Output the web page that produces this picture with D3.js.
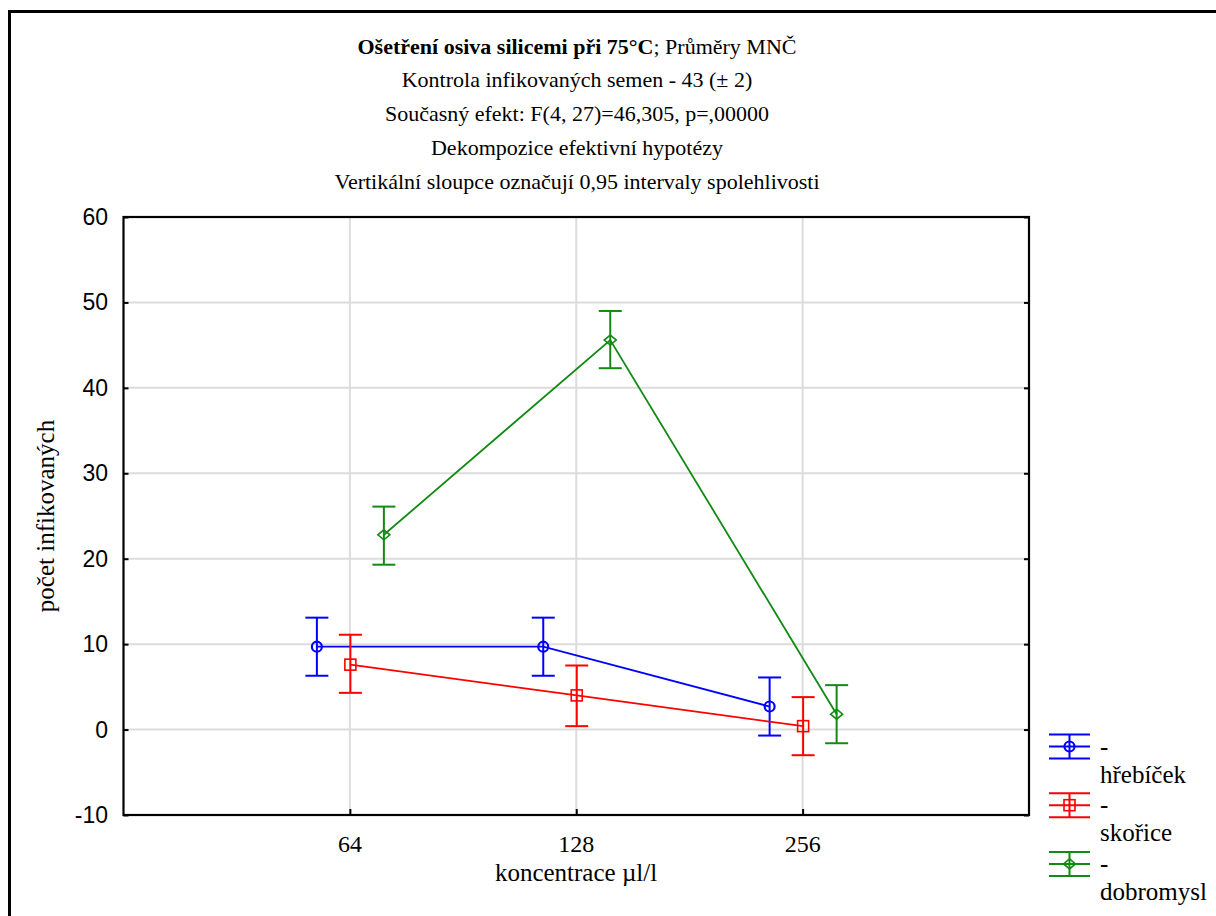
<!DOCTYPE html>
<html><head><meta charset="utf-8">
<script src="https://cdn.jsdelivr.net/npm/d3@7"></script>
<style>
html,body{margin:0;padding:0;background:#fff;}
svg{display:block;}
</style></head>
<body>
<svg id="chart" width="1216" height="916"></svg>
<script>
// ---- data ----
const categories = ["64", "128", "256"];
const seriesNames = ["hřebíček", "skořice", "dobromysl"];
const seriesColors = ["#0000ff", "#ff0000", "#138a13"];
const seriesMarkers = ["circle", "square", "diamond"];
const hrebicekMean = [9.7, 9.7, 2.7];
const hrebicekLow = [6.3, 6.3, -0.7];
const hrebicekHigh = [13.1, 13.1, 6.1];
const skoriceMean = [7.6, 4.0, 0.4];
const skoriceLow = [4.3, 0.4, -3.0];
const skoriceHigh = [11.1, 7.5, 3.8];
const dobromyslMean = [22.8, 45.6, 1.8];
const dobromyslLow = [19.3, 42.3, -1.6];
const dobromyslHigh = [26.1, 49.0, 5.2];
const yTicks = [-10, 0, 10, 20, 30, 40, 50, 60];
const titleLines = [
  "Kontrola infikovaných semen - 43 (± 2)",
  "Současný efekt: F(4, 27)=46,305, p=,00000",
  "Dekompozice efektivní hypotézy",
  "Vertikální sloupce označují 0,95 intervaly spolehlivosti"
];
const xLabel = "koncentrace µl/l";
const yLabel = "počet infikovaných";

const series = [
  {name: seriesNames[0], mean: hrebicekMean, low: hrebicekLow, high: hrebicekHigh},
  {name: seriesNames[1], mean: skoriceMean, low: skoriceLow, high: skoriceHigh},
  {name: seriesNames[2], mean: dobromyslMean, low: dobromyslLow, high: dobromyslHigh}
].map((s, i) => ({...s, color: seriesColors[i], marker: seriesMarkers[i]}));

// ---- layout ----
const svg = d3.select("#chart");
const L = 123.5, R = 1029, T = 217, B = 815;
const serif = "Liberation Serif";
const sans = "Liberation Sans";

const x = d3.scalePoint().domain(categories).range([L, R]).padding(1);
const off = d3.scalePoint().domain(seriesNames).range([-33, 34]);
const y = d3.scaleLinear().domain([-10, 60]).range([B, T]);

// outer frame
svg.append("path").attr("d", `M9.5,916 V11.5 H1216`).attr("fill", "none")
  .attr("stroke", "#000").attr("stroke-width", 3);

// title
const tg = svg.append("g").style("font-family", serif).style("font-size", "22px")
  .attr("text-anchor", "middle").attr("fill", "#000");
const t0 = tg.append("text").attr("x", 577).attr("y", 54);
t0.append("tspan").attr("font-weight", "bold").text("Ošetření osiva silicemi při 75°C");
t0.append("tspan").text("; Průměry MNČ");
titleLines.forEach((t, i) => tg.append("text").attr("x", 577).attr("y", 87 + i * 34).text(t));

// grid
svg.append("g").selectAll("line").data(yTicks).join("line")
  .attr("x1", L).attr("x2", R).attr("y1", d => y(d)).attr("y2", d => y(d))
  .attr("stroke", "#dcdcdc").attr("stroke-width", 2);
svg.append("g").selectAll("line").data(categories).join("line")
  .attr("x1", d => x(d)).attr("x2", d => x(d)).attr("y1", T).attr("y2", B)
  .attr("stroke", "#dcdcdc").attr("stroke-width", 2);

// axes (ticks inward)
const yAxisL = svg.append("g").attr("transform", `translate(${L},0)`)
  .call(d3.axisRight(y).tickValues(yTicks).tickSize(5).tickFormat(""));
const yAxisR = svg.append("g").attr("transform", `translate(${R},0)`)
  .call(d3.axisLeft(y).tickValues(yTicks).tickSize(5).tickFormat(""));
const xAxisB = svg.append("g").attr("transform", `translate(0,${B})`)
  .call(d3.axisTop(x).tickSize(6).tickFormat(""));
[yAxisL, yAxisR, xAxisB].forEach(g => {
  g.select(".domain").remove();
  g.selectAll(".tick line").attr("stroke", "#000").attr("stroke-width", 2);
});
// y tick labels
svg.append("g").style("font-family", sans).style("font-size", "23px").attr("text-anchor", "end")
  .selectAll("text").data(yTicks).join("text")
  .attr("x", 108).attr("y", d => y(d) + 8).attr("fill", "#000").text(d => d);
// x tick labels
svg.append("g").style("font-family", serif).style("font-size", "24px").attr("text-anchor", "middle")
  .selectAll("text").data(categories).join("text")
  .attr("x", d => x(d)).attr("y", 852).attr("fill", "#000").text(d => d);

// plot frame
svg.append("rect").attr("x", L).attr("y", T).attr("width", R - L).attr("height", B - T)
  .attr("fill", "none").attr("stroke", "#000").attr("stroke-width", 2.2);

// axis labels
svg.append("text").attr("x", 576).attr("y", 881).attr("text-anchor", "middle")
  .style("font-family", serif).style("font-size", "25px").text(xLabel);
svg.append("text").attr("transform", `translate(54,${(T + B) / 2}) rotate(-90)`)
  .attr("text-anchor", "middle").style("font-family", serif).style("font-size", "25px").text(yLabel);

// marker drawing
function drawMarker(g, type, cx, cy, color) {
  if (type === "circle") {
    g.append("circle").attr("cx", cx).attr("cy", cy).attr("r", 5)
      .attr("fill", "none").attr("stroke", color).attr("stroke-width", 2.2);
  } else if (type === "square") {
    g.append("rect").attr("x", cx - 5.5).attr("y", cy - 5.5).attr("width", 11).attr("height", 11)
      .attr("fill", "none").attr("stroke", color).attr("stroke-width", 1.6);
  } else {
    g.append("path").attr("d", `M${cx},${cy - 5} L${cx + 6},${cy} L${cx},${cy + 5} L${cx - 6},${cy} Z`)
      .attr("fill", "none").attr("stroke", color).attr("stroke-width", 1.6);
  }
}

// series
const capW = 11.5;
series.forEach(s => {
  const g = svg.append("g");
  const px = i => x(categories[i]) + off(s.name);
  const line = d3.line().x((d, i) => px(i)).y(d => y(d));
  g.append("path").attr("d", line(s.mean)).attr("fill", "none")
    .attr("stroke", s.color).attr("stroke-width", 1.8);
  s.mean.forEach((m, i) => {
    const cx = px(i);
    g.append("line").attr("x1", cx).attr("x2", cx).attr("y1", y(s.low[i])).attr("y2", y(s.high[i]))
      .attr("stroke", s.color).attr("stroke-width", 2);
    [s.low[i], s.high[i]].forEach(v => g.append("line")
      .attr("x1", cx - capW).attr("x2", cx + capW).attr("y1", y(v)).attr("y2", y(v))
      .attr("stroke", s.color).attr("stroke-width", 2));
    drawMarker(g, s.marker, cx, y(m), s.color);
  });
});

// legend
const lg = svg.append("g");
series.forEach((s, i) => {
  const cy = 746.5 + i * 58.7;
  const x0 = 1049, x1 = 1090, xc = 1069.5;
  const g = lg.append("g");
  [cy - 12, cy, cy + 12].forEach(yy => g.append("line").attr("x1", x0).attr("x2", x1)
    .attr("y1", yy).attr("y2", yy).attr("stroke", s.color).attr("stroke-width", 2));
  g.append("line").attr("x1", xc).attr("x2", xc).attr("y1", cy - 12).attr("y2", cy + 12)
    .attr("stroke", s.color).attr("stroke-width", 2);
  drawMarker(g, s.marker, xc, cy, s.color);
  const t = g.append("text").style("font-family", serif).style("font-size", "25px").attr("fill", "#000");
  t.append("tspan").attr("x", 1100).attr("y", cy + 8).text("-");
  t.append("tspan").attr("x", 1100).attr("y", cy + 36).text(s.name);
});
</script>
</body></html>
